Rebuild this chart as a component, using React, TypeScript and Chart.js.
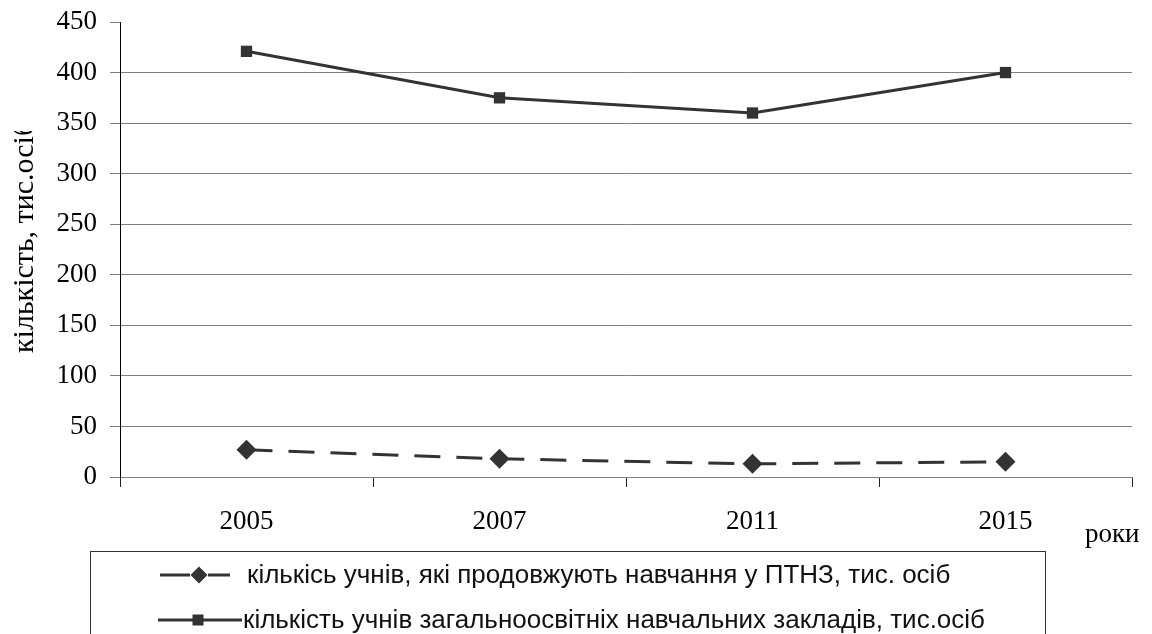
import React, { useEffect, useRef } from "react";
import { Chart, registerables } from "chart.js";

Chart.register(...registerables);

const years = ["2005", "2007", "2011", "2015"];
const ptnzStudents = [27, 18, 13, 15];
const generalStudents = [421, 375, 360, 400];
const ptnzLabel = "кількісь учнів, які продовжують навчання у ПТНЗ, тис. осіб";
const generalLabel = "кількість учнів загальноосвітніх навчальних закладів, тис.осіб";
const yTitle = "кількість, тис.осіб";
const xTitle = "роки";

const SERIF = "'Liberation Serif', 'Times New Roman', serif";
const SANS = "'Liberation Sans', Arial, sans-serif";
const LINE = "#333333";
const GRID = "#7f7f7f";

const decorPlugin = {
  id: "decor",
  afterDraw(chart: any) {
    const ctx = chart.ctx as CanvasRenderingContext2D;
    ctx.save();
    // y title (clipped at top like the original)
    ctx.save();
    ctx.beginPath();
    ctx.rect(0, 131, 60, 500);
    ctx.clip();
    ctx.translate(33, 353);
    ctx.rotate(-Math.PI / 2);
    ctx.font = `30px ${SERIF}`;
    ctx.fillStyle = "#000";
    ctx.textAlign = "left";
    ctx.textBaseline = "alphabetic";
    ctx.fillText(yTitle, 0, 0);
    ctx.restore();

    // x title
    ctx.font = `27px ${SERIF}`;
    ctx.fillStyle = "#000";
    ctx.textAlign = "left";
    ctx.textBaseline = "middle";
    ctx.fillText(xTitle, 1085, 535);

    // legend box
    ctx.strokeStyle = "#333";
    ctx.lineWidth = 1;
    ctx.strokeRect(90.5, 551.5, 955, 200);

    const ds = chart.data.datasets;
    // item 1: dashed line with diamond
    let y = 575;
    ctx.strokeStyle = LINE;
    ctx.fillStyle = LINE;
    ctx.lineWidth = 3;
    ctx.beginPath();
    ctx.moveTo(160, y);
    ctx.lineTo(190, y);
    ctx.moveTo(208, y);
    ctx.lineTo(230, y);
    ctx.stroke();
    ctx.beginPath();
    ctx.moveTo(199, y - 8.5);
    ctx.lineTo(207.5, y);
    ctx.lineTo(199, y + 8.5);
    ctx.lineTo(190.5, y);
    ctx.closePath();
    ctx.fill();
    ctx.font = `26px ${SANS}`;
    ctx.fillStyle = "#111";
    ctx.textBaseline = "middle";
    ctx.fillText(ds[0].label, 247, y + 1);

    // item 2: solid line with square
    y = 620;
    ctx.fillStyle = LINE;
    ctx.beginPath();
    ctx.moveTo(158, y);
    ctx.lineTo(242, y);
    ctx.stroke();
    ctx.fillRect(192.5, y - 5.5, 11, 11);
    ctx.fillStyle = "#111";
    ctx.fillText(ds[1].label, 243, y + 1);
    ctx.restore();
  },
};

export default function App() {
  const ref = useRef<HTMLCanvasElement>(null);
  useEffect(() => {
    document.body.style.margin = "0";
    const chart = new Chart(ref.current as HTMLCanvasElement, {
      type: "line",
      data: {
        labels: years,
        datasets: [
          {
            label: ptnzLabel,
            data: ptnzStudents,
            borderColor: LINE,
            backgroundColor: LINE,
            borderWidth: 3,
            borderDash: [26, 16],
            pointStyle: "rectRot",
            pointRadius: 10,
            pointBorderWidth: 0,
            tension: 0,
          },
          {
            label: generalLabel,
            data: generalStudents,
            borderColor: LINE,
            backgroundColor: LINE,
            borderWidth: 3,
            pointStyle: "rect",
            pointRadius: 8,
            pointBorderWidth: 0,
            tension: 0,
          },
        ],
      },
      options: {
        responsive: false,
        animation: false,
        layout: { padding: { top: 22, right: 20, bottom: 0, left: 0 } },
        plugins: { legend: { display: false }, tooltip: { enabled: false } },
        scales: {
          x: {
            type: "category",
            offset: true,
            grid: {
              offset: true,
              drawOnChartArea: false,
              drawTicks: true,
              tickLength: 10,
              tickColor: "#222",
              color: "#222",
            },
            border: { display: true, color: GRID, width: 1 },
            ticks: { color: "#000", font: { family: SERIF, size: 27 }, padding: 19 },
            afterFit: (s: any) => {
              s.height = 157;
              s.paddingLeft = 0;
              s.paddingRight = 0;
            },
          },
          y: {
            min: 0,
            max: 450,
            ticks: { stepSize: 50, color: "#000", font: { family: SERIF, size: 27 }, padding: 13 },
            grid: {
              color: (c: any) => (c.tick && c.tick.value === 450 ? "rgba(0,0,0,0)" : GRID),
              tickColor: GRID,
              tickLength: 10,
              drawTicks: true,
            },
            border: { display: true, color: "#000", width: 1 },
            afterFit: (s: any) => {
              s.width = 120;
              s.paddingTop = 0;
              s.paddingBottom = 0;
            },
          },
        },
      },
      plugins: [decorPlugin],
    });
    return () => chart.destroy();
  }, []);
  return (
    <div style={{ position: "absolute", left: 0, top: 0, width: 1152, height: 634, background: "#fff" }}>
      <canvas ref={ref} width={1152} height={634} style={{ width: 1152, height: 634 }} />
    </div>
  );
}
